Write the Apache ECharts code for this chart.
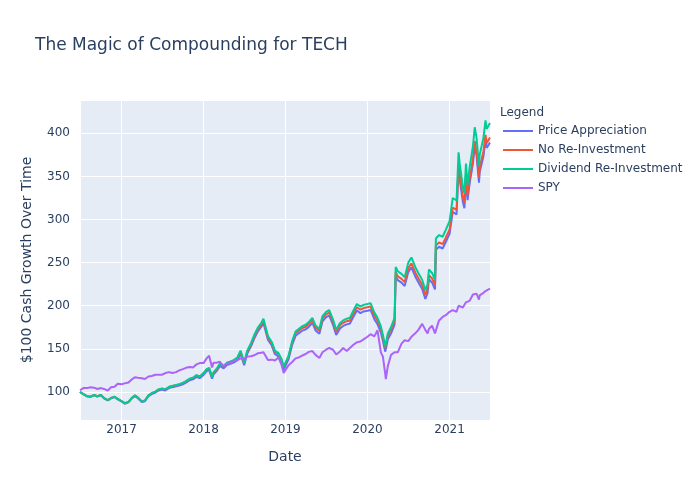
<!DOCTYPE html>
<html>
<head>
<meta charset="utf-8">
<script src="https://cdn.jsdelivr.net/npm/echarts@6/dist/echarts.min.js"></script>
<style>html,body{margin:0;padding:0;background:#fff;}#chart{width:700px;height:500px;}</style>
</head>
<body>
<div id="chart"></div>
<script>
const dates = ['2016-06-30','2016-07-15','2016-08-01','2016-08-15','2016-09-01','2016-09-15','2016-10-01','2016-10-15','2016-11-01','2016-11-15','2016-12-01','2016-12-15',
'2017-01-01','2017-01-15','2017-02-01','2017-02-15','2017-03-01','2017-03-15','2017-04-01','2017-04-15','2017-05-01','2017-05-15','2017-06-01','2017-06-15','2017-07-01','2017-07-15','2017-08-01','2017-08-15','2017-09-01','2017-09-15','2017-10-01','2017-10-15','2017-11-01','2017-11-15','2017-12-01','2017-12-15',
'2018-01-01','2018-01-15','2018-01-26','2018-02-08','2018-02-15','2018-03-01','2018-03-15','2018-04-01','2018-04-15','2018-05-01','2018-05-15','2018-06-01','2018-06-15','2018-07-01','2018-07-15','2018-08-01','2018-08-15','2018-09-01','2018-09-15','2018-09-25','2018-10-15','2018-11-01','2018-11-15','2018-12-01','2018-12-15','2018-12-24',
'2019-01-15','2019-02-01','2019-02-15','2019-03-01','2019-03-15','2019-04-01','2019-04-15','2019-05-01','2019-05-15','2019-06-01','2019-06-15','2019-07-01','2019-07-15','2019-08-01','2019-08-15','2019-09-01','2019-09-15','2019-10-01','2019-10-15','2019-11-01','2019-11-15','2019-12-01','2019-12-15',
'2020-01-01','2020-01-15','2020-02-01','2020-02-15','2020-03-01','2020-03-10','2020-03-20','2020-03-23','2020-04-01','2020-04-15','2020-05-01','2020-05-06','2020-05-15','2020-06-01','2020-06-15','2020-07-01','2020-07-15','2020-08-01','2020-08-15','2020-09-01','2020-09-15','2020-09-25','2020-10-01','2020-10-15','2020-10-28','2020-11-01','2020-11-15','2020-12-01','2020-12-15',
'2021-01-01','2021-01-15','2021-02-01','2021-02-10','2021-02-15','2021-03-01','2021-03-08','2021-03-15','2021-03-22','2021-04-01','2021-04-15','2021-04-23','2021-05-01','2021-05-12','2021-05-15','2021-06-01','2021-06-10','2021-06-15','2021-06-30'];

const priceAppreciation = [100,97.5,94.9,94.4,96.3,94.8,96.2,92.7,90.1,92.6,94,91.5,
89,86.4,87.9,92.3,95.2,92.7,88.2,89.2,95,97.5,99.4,101.8,102.8,101.7,104.6,105.6,106.5,107.4,108.9,110.8,113.7,114.6,117.5,116,
119.8,124.2,125.6,115.3,120.6,124.5,130.3,127.3,131.2,132.6,134,136.9,144.6,130.9,144.5,153.2,161.9,170.6,175.4,180.1,160.7,153.8,144,141.1,134.2,125.5,
138.1,155.5,165.1,168,170.8,172.6,175.5,180.2,171.4,167.5,181.9,186.7,188.5,177.8,166.1,173.7,176.6,178.4,179.3,187.9,194.5,191.5,193.4,
194.2,195.1,184.4,178.6,168.9,159.3,146.8,149.6,161.1,167.7,178.2,234.7,229.8,226.8,222.9,239,244.6,234,227.2,219.5,207.9,214.5,230.7,226.8,219,264.8,268.4,266.4,273.9,
283.3,308.8,305.8,359,346.5,320.7,313.1,346.1,322.4,343.1,364.8,385.6,374.1,342.8,354.9,373.7,392.6,383,389.4];

const noReinvestment = [100,97.5,95,94.5,96.5,95,96.5,93,90.5,93,94.5,92,
89.5,87,88.5,93,96,93.5,89.1,90.1,96,98.5,100.4,102.9,103.9,102.9,105.8,106.9,107.8,108.8,110.3,112.3,115.2,116.2,119.1,117.6,
121.5,125.9,127.4,117.1,122.5,126.4,132.2,129.3,133.2,134.7,136.1,139,146.8,133.2,146.8,155.5,164.3,173,177.9,182.6,163.3,156.4,146.7,143.8,137,128.3,
141,158.4,168.1,171,173.9,175.7,178.7,183.4,174.7,170.8,185.3,190.1,192,181.3,169.6,177.3,180.2,182.1,183,191.7,198.3,195.4,197.3,
198.2,199.1,188.5,182.7,173.1,163.5,151,153.8,165.4,172,182.5,239,234.2,231.2,227.4,243.5,249.2,238.6,231.9,224.2,212.7,219.3,235.5,231.6,223.9,269.7,273.4,271.4,278.9,
288.4,313.9,311,364.2,351.7,326,318.4,351.4,327.7,348.5,370.2,391,379.5,348.3,360.4,379.3,398.2,388.6,395];

const dividendReinvestment = [100,97.5,95,94.5,96.5,95,96.5,93,90.5,93,94.5,92,
89.5,87,88.5,93,96,93.5,89,90,96,98.5,100.5,103,104,103,106,107,108,109,110.5,112.5,115.5,116.5,119.5,118,
122,126.5,128,117.5,123,127,133,130,134,135.5,137,140,148,134,148,157,166,175,180,185,165,158,148,145,138,129,
142,160,170,173,176,178,181,186,177,173,188,193,195,184,172,180,183,185,186,195,202,199,201,
202,203,192,186,176,166,153,156,168,175,186,245,240,237,233,250,256,245,238,230,218,225,242,238,230,278,282,280,288,
298,325,322,378,365,338,330,365,340,362,385,407,395,362,375,395,415,405,412];

const spy = [102,104.5,104.5,105.5,105,103.5,104.5,103.5,101.5,105.5,106,109.5,
109,110,111,114.5,117,116.5,116,115,118,118.5,120,120,120,122,123,122,123,125,126.5,128,129,128.5,132,133.5,
133.5,139,142,128.5,134,134,135,130,133,133,136,137,139,137.5,141,141.5,142.5,145,145.5,146,137,137.5,136.5,140,131,122,
131,135,139,140,142,144,146.5,147.5,143,139.5,146,149,151,149,143.5,147,151,147.5,151,155,157.5,158.5,161,
164,167,164.5,171.5,146,141,122,115,130,143,146,146,146,156,160,159,164,168,172,179,172,168,173,177,168,170,183,187,189,
193,195,193,200,201,198,197,204,202,206,213,213,214,207,212,215,217,218,220];

const seriesNames = ['Price Appreciation','No Re-Investment','Dividend Re-Investment','SPY'];
const seriesColors = ['#636efa','#EF553B','#00cc96','#ab63fa'];
const seriesValues = [priceAppreciation, noReinvestment, dividendReinvestment, spy];

const textColor = '#2a3f5f';
const fontFamily = '"DejaVu Sans", Verdana, sans-serif';

const chart = echarts.init(document.getElementById('chart'), null, {renderer: 'canvas'});
chart.setOption({
  animation: false,
  textStyle: {fontFamily: fontFamily, color: textColor},
  title: [
    {text: 'The Magic of Compounding for TECH', left: 35, top: 37, padding: 0,
     textStyle: {fontFamily: fontFamily, fontSize: 17, fontWeight: 'normal', color: textColor}},
    {text: 'Legend', left: 500, top: 107, padding: 0,
     textStyle: {fontFamily: fontFamily, fontSize: 12, fontWeight: 'normal', color: textColor}}
  ],
  legend: {
    orient: 'vertical', left: 503, top: 124, padding: 0,
    icon: 'rect', itemWidth: 30, itemHeight: 2, itemGap: 5,
    textStyle: {fontFamily: fontFamily, fontSize: 12, color: textColor, lineHeight: 14},
    data: seriesNames
  },
  grid: {left: 80, right: 210, top: 100, bottom: 80, show: true, backgroundColor: '#E5ECF6', borderWidth: 0, containLabel: false},
  xAxis: {
    type: 'time', min: '2016-06-30', max: '2021-06-30',
    minInterval: 365 * 24 * 3600 * 1000, maxInterval: 366 * 24 * 3600 * 1000,
    name: 'Date', nameLocation: 'middle', nameGap: 30,
    nameTextStyle: {fontFamily: fontFamily, fontSize: 14, color: textColor},
    axisLine: {show: false}, axisTick: {show: false},
    axisLabel: {fontFamily: fontFamily, fontSize: 12, color: textColor, margin: 4,
      showMinLabel: false, showMaxLabel: false,
      formatter: function (v) { return String(new Date(v).getFullYear()); }},
    splitLine: {show: true, lineStyle: {color: '#ffffff', width: 1}}
  },
  yAxis: {
    type: 'value', min: 67.5, max: 438.6, splitNumber: 7,
    name: '$100 Cash Growth Over Time', nameLocation: 'middle', nameGap: 46,
    nameTextStyle: {fontFamily: fontFamily, fontSize: 14, color: textColor},
    axisLine: {show: false}, axisTick: {show: false},
    axisLabel: {fontFamily: fontFamily, fontSize: 12, color: textColor, margin: 10,
      showMinLabel: false, showMaxLabel: false},
    splitLine: {show: true, lineStyle: {color: '#ffffff', width: 1}}
  },
  series: seriesNames.map(function (name, i) {
    return {
      name: name, type: 'line', showSymbol: false, symbol: 'none',
      lineStyle: {width: 2, color: seriesColors[i]}, itemStyle: {color: seriesColors[i]},
      data: dates.map(function (d, j) { return [d, seriesValues[i][j]]; })
    };
  })
});
</script>
</body>
</html>
